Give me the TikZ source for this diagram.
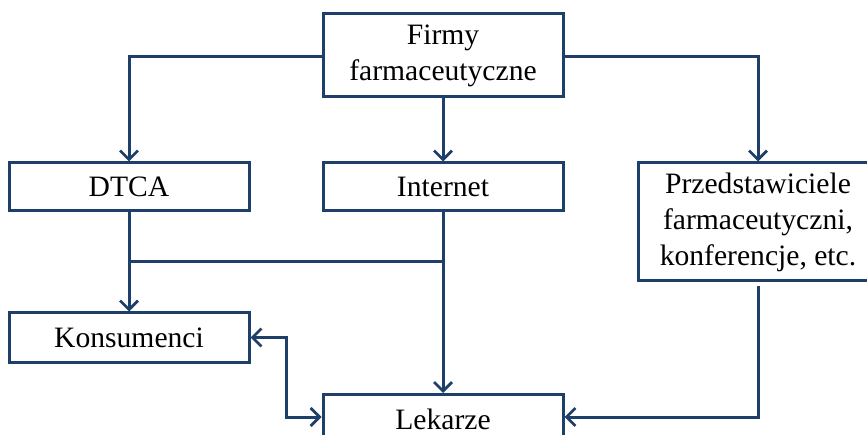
\documentclass[tikz,border=0pt]{standalone}
\usepackage{fontspec}
\setmainfont{Liberation Serif}
\usetikzlibrary{arrows.meta}
\definecolor{linkblue}{HTML}{1F3F6B}
\begin{document}
\begin{tikzpicture}[x=1pt,y=-1pt,
  box/.style={draw=linkblue,line width=3pt,minimum width=240pt,inner sep=0pt,
    align=center,font=\fontsize{29.6}{36}\selectfont,text=black},
  barb/.tip={Straight Barb[length=9pt,width=18pt,line width=2.8pt]},
  link/.style={draw=linkblue,line width=3pt,-barb}]
\useasboundingbox (0,0) rectangle (867,435);
\clip (0,0) rectangle (867,435);
% boxes
\node[box,minimum height=83pt] (firmy) at (443,55.5) {Firmy\\farmaceutyczne};
\node[box,minimum height=48pt] (dtca) at (129,187) {DTCA};
\node[box,minimum height=48pt] (inet) at (443,187) {Internet};
\node[box,minimum height=118pt] (przed) at (758,222) {Przedstawiciele\\farmaceutyczni,\\konferencje, etc.};
\node[box,minimum height=49pt] (kons) at (129,337.5) {Konsumenci};
\node[box,minimum height=50pt,anchor=north] (lek) at (443,393) {Lekarze};
% helper points
\coordinate (join) at (inet.south |- 0,262);
\coordinate (kbend) at (286,0);
% connectors
\draw[link] (firmy.west |- 0,57) -| (dtca.north);
\draw[link] (firmy.east |- 0,57) -| (przed.north);
\draw[link] (firmy.south) -- (inet.north);
\draw[link] (dtca.south) -- (kons.north);
\draw[draw=linkblue,line width=3pt] (dtca.south |- join) -- (join);
\draw[link] (inet.south) -- (lek.north);
\draw[link,barb-barb] (kons.east) -- (kbend |- kons.east) |- (lek.west |- 0,417);
\draw[link] ([yshift=-4pt]przed.south) |- (lek.east |- 0,417);
\end{tikzpicture}
\end{document}
